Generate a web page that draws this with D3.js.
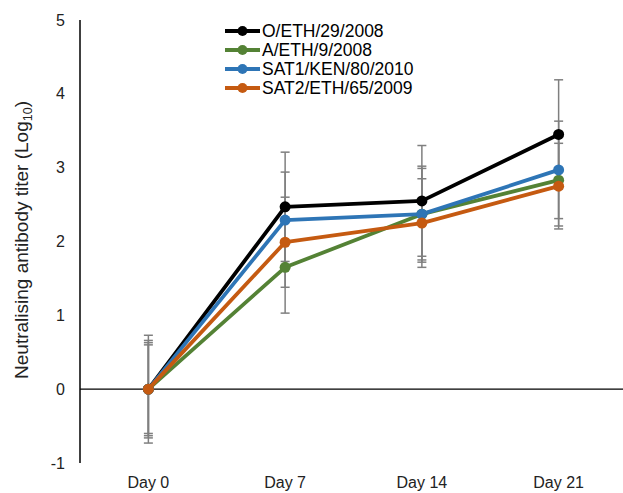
<!DOCTYPE html>
<html><head><meta charset="utf-8">
<script src="https://cdn.jsdelivr.net/npm/d3@7"></script>
<style>body{margin:0;background:#fff}svg{display:block;font-family:Arial,"Liberation Sans",sans-serif}</style>
</head><body><svg id="c" width="623" height="493"></svg>
<script>
const days = ["Day 0", "Day 7", "Day 14", "Day 21"];
const seriesNames = ["O/ETH/29/2008", "A/ETH/9/2008", "SAT1/KEN/80/2010", "SAT2/ETH/65/2009"];
const seriesColors = ["#000000", "#548235", "#2E75B6", "#C55A11"];
const valO = [0, 2.47, 2.55, 3.45];
const valA = [0, 1.65, 2.37, 2.83];
const valSAT1 = [0, 2.29, 2.37, 2.97];
const valSAT2 = [0, 1.99, 2.25, 2.75];
const errO = [0.73, 0.74, 0.75, 0.74];
const errA = [0.66, 0.62, 0.62, 0.62];
const errSAT1 = [0.63, 0.65, 0.65, 0.66];
const errSAT2 = [0.60, 0.61, 0.60, 0.58];
const yTicks = [-1, 0, 1, 2, 3, 4, 5];

const values = [valO, valA, valSAT1, valSAT2];
const errors = [errO, errA, errSAT1, errSAT2];

const svg = d3.select("#c");
const x = d3.scaleBand().domain(days).range([80, 627]);
const cx = d => x(d) + x.bandwidth() / 2;
const y = d3.scaleLinear().domain([-1, 5]).range([463, 20]);

// y axis line
svg.append("line").attr("x1", 80).attr("x2", 80).attr("y1", y(5)).attr("y2", y(-1))
  .attr("stroke", "#000").attr("stroke-width", 1.5);
// zero line
svg.append("line").attr("x1", 80).attr("x2", 623).attr("y1", y(0)).attr("y2", y(0))
  .attr("stroke", "#000").attr("stroke-width", 1.2);

// y tick labels
svg.selectAll("text.yt").data(yTicks).enter().append("text")
  .attr("x", 65).attr("y", d => y(d)).attr("dy", "0.35em")
  .attr("text-anchor", "end").attr("font-size", 16).attr("fill", "#222")
  .text(d => d);

// x tick labels
svg.selectAll("text.xt").data(days).enter().append("text")
  .attr("x", d => cx(d)).attr("y", 488).attr("text-anchor", "middle")
  .attr("font-size", 16).attr("fill", "#222").text(d => d);

// y title
const yt = svg.append("text").attr("transform", "translate(28,240) rotate(-90)")
  .attr("text-anchor", "middle").attr("font-size", 19).attr("fill", "#222");
yt.append("tspan").text("Neutralising antibody titer (Log");
yt.append("tspan").attr("font-size", 12.5).attr("dy", 4).text("10");
yt.append("tspan").attr("dy", -4).text(")");

// error bars
values.forEach((vals, si) => {
  const g = svg.append("g").attr("stroke", "#7f7f7f").attr("stroke-width", 1.5);
  vals.forEach((v, i) => {
    const e = errors[si][i];
    const px = cx(days[i]);
    g.append("line").attr("x1", px).attr("x2", px).attr("y1", y(v + e)).attr("y2", y(v - e));
    [v + e, v - e].forEach(t => g.append("line").attr("x1", px - 4.5).attr("x2", px + 4.5)
      .attr("y1", y(t)).attr("y2", y(t)));
  });
});

// lines & markers
const line = d3.line().x((d, i) => cx(days[i])).y(d => y(d));
values.forEach((vals, si) => {
  svg.append("path").datum(vals).attr("d", line).attr("fill", "none")
    .attr("stroke", seriesColors[si]).attr("stroke-width", 3.8).attr("stroke-linejoin", "round");
  svg.selectAll(null).data(vals).enter().append("circle")
    .attr("cx", (d, i) => cx(days[i])).attr("cy", d => y(d)).attr("r", 5.5)
    .attr("fill", seriesColors[si]);
});

// legend
seriesNames.forEach((n, i) => {
  const ly = 31 + i * 19;
  svg.append("line").attr("x1", 225).attr("x2", 260).attr("y1", ly).attr("y2", ly)
    .attr("stroke", seriesColors[i]).attr("stroke-width", 3.8);
  svg.append("circle").attr("cx", 242.5).attr("cy", ly).attr("r", 5).attr("fill", seriesColors[i]);
  svg.append("text").attr("x", 262).attr("y", ly).attr("dy", "0.36em")
    .attr("font-size", 17.5).attr("fill", "#000").text(n);
});
</script></body></html>
